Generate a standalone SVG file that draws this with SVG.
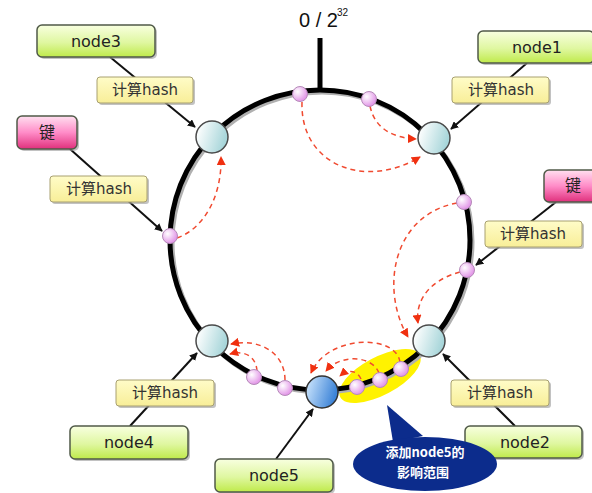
<svg xmlns="http://www.w3.org/2000/svg" width="592" height="493" viewBox="0 0 592 493">
<defs>
<linearGradient id="gGreen" x1="0" y1="0" x2="0" y2="1"><stop offset="0" stop-color="#f8ffe0"/><stop offset="0.55" stop-color="#dff7a0"/><stop offset="1" stop-color="#bfea4a"/></linearGradient>
<linearGradient id="gPinkBox" x1="0" y1="0" x2="0" y2="1"><stop offset="0" stop-color="#ffe0f0"/><stop offset="0.5" stop-color="#ff8cc8"/><stop offset="1" stop-color="#e0307c"/></linearGradient>
<linearGradient id="gYellow" x1="0" y1="0" x2="0" y2="1"><stop offset="0" stop-color="#fffcc8"/><stop offset="1" stop-color="#f8ee98"/></linearGradient>
<linearGradient id="gNode" x1="0" y1="0" x2="1" y2="0.3"><stop offset="0.1" stop-color="#ffffff"/><stop offset="1" stop-color="#a8d6da"/></linearGradient>
<linearGradient id="gBlue" x1="0" y1="0" x2="1" y2="0.3"><stop offset="0" stop-color="#d6ecff"/><stop offset="1" stop-color="#3d84d8"/></linearGradient>
<radialGradient id="gPink" cx="0.35" cy="0.35" r="0.7"><stop offset="0" stop-color="#ffffff"/><stop offset="1" stop-color="#e08ee6"/></radialGradient>
<marker id="aBlack" viewBox="0 0 10 10" refX="9" refY="5" markerWidth="8" markerHeight="8" markerUnits="userSpaceOnUse" orient="auto"><path d="M0,0 L10,5 L0,10 z" fill="#111"/></marker>
<marker id="aRed" viewBox="0 0 10 10" refX="9" refY="5" markerWidth="9" markerHeight="9" markerUnits="userSpaceOnUse" orient="auto"><path d="M0,0 L10,5 L0,10 z" fill="#f03010"/></marker>
</defs>
<style>
.box{stroke:#505a48;stroke-width:1.5}
.shadow{fill:#9a9a9a;opacity:0.6}
.ntext{font-family:"DejaVu Sans","Noto Sans CJK SC",sans-serif;font-size:16px;fill:#222;text-anchor:middle}
.htext{font-family:"DejaVu Sans","Noto Sans CJK SC",sans-serif;font-size:15px;fill:#333;text-anchor:middle}
.hbox{fill:url(#gYellow);stroke:#a8a070;stroke-width:1}
.dash{fill:none;stroke:#f04a30;stroke-width:1.5;stroke-dasharray:5 4;marker-end:url(#aRed)}
.solid{fill:none;stroke:#111;stroke-width:2;marker-end:url(#aBlack)}
.node{fill:url(#gNode);stroke:#4a4a4a;stroke-width:1.5}
.pink{fill:url(#gPink);stroke:#b58ab8;stroke-width:1}
.ctext{font-family:"Noto Sans CJK SC",sans-serif;font-weight:bold;font-size:13px;fill:#ffffff;text-anchor:middle}
</style>
<rect width="592" height="493" fill="#ffffff"/>

<!-- highlight -->
<ellipse cx="380" cy="376" rx="45" ry="19" transform="rotate(-28 380 376)" fill="#fff200"/>

<!-- ring -->
<g id="ring">
<circle cx="322" cy="242" r="150" fill="none" stroke="#b0b0b0" stroke-width="5"/>
<circle cx="320" cy="240" r="150" fill="none" stroke="#000" stroke-width="5"/>
<line x1="320" y1="38" x2="320" y2="91" stroke="#000" stroke-width="5"/>
<text x="299" y="27" font-family="Liberation Sans, sans-serif" font-size="20" fill="#111">0 / 2</text>
<text x="337" y="16" font-family="Liberation Sans, sans-serif" font-size="10" fill="#111">32</text>
</g>

<g id="connectors">
<path class="dash" d="M302,102 C300,165 365,190 420,157"/>
<path class="dash" d="M370,106 C375,130 395,138 416,139"/>
<path class="dash" d="M177,238 C205,228 222,195 221,157"/>
<path class="dash" d="M457,203 C392,215 380,290 408,337"/>
<path class="dash" d="M460,272 C430,280 415,300 418,323"/>
<path class="dash" d="M285,380 C285,352 258,338 231,344"/>
<path class="dash" d="M257,371 C256,356 244,350 230,354"/>
<path class="dash" d="M400,362 C396,334 328,334 311,373"/>
<path class="dash" d="M379,373 C372,355 340,354 326,371"/>
<path class="dash" d="M361,379 C357,370 348,369 340,376"/>
<line class="solid" x1="110" y1="57" x2="195" y2="127"/>
<line class="solid" x1="70" y1="149" x2="162" y2="231"/>
<line class="solid" x1="527" y1="63" x2="451" y2="129"/>
<line class="solid" x1="556" y1="202" x2="476" y2="265"/>
<line class="solid" x1="130" y1="426" x2="197" y2="353"/>
<line class="solid" x1="276" y1="459" x2="313" y2="409"/>
<line class="solid" x1="515" y1="426" x2="443" y2="354"/>
</g>

<!-- ring points -->
<g id="points">
<circle class="pink" cx="300" cy="94" r="7.5"/>
<circle class="pink" cx="369" cy="99" r="7.5"/>
<circle class="pink" cx="464" cy="202" r="7.5"/>
<circle class="pink" cx="467" cy="270" r="7.5"/>
<circle class="pink" cx="170" cy="236" r="7.5"/>
<circle class="pink" cx="254" cy="377" r="7.5"/>
<circle class="pink" cx="285" cy="388" r="7.5"/>
<circle class="pink" cx="357" cy="387" r="7.5"/>
<circle class="pink" cx="380" cy="380" r="7.5"/>
<circle class="pink" cx="401" cy="369" r="7.5"/>
</g>

<g id="n3c"><circle class="node" cx="212" cy="137" r="16"/></g>
<g id="n1c"><circle class="node" cx="434" cy="138" r="16"/></g>
<g id="n4c"><circle class="node" cx="212" cy="341" r="16"/></g>
<g id="n2c"><circle class="node" cx="429" cy="341" r="16"/></g>
<g id="n5c"><circle cx="322" cy="392" r="16" fill="url(#gBlue)" stroke="#333" stroke-width="1.5"/></g>

<!-- labels -->
<g id="node3">
<rect class="shadow" x="39" y="27" width="118" height="32" rx="5"/>
<rect class="box" x="37" y="25" width="118" height="32" rx="5" fill="url(#gGreen)"/>
<text class="ntext" x="96" y="47">node3</text>
</g>
<g id="hash3">
<rect class="shadow" x="99" y="79" width="96" height="26" rx="3"/>
<rect class="hbox" x="97" y="77" width="96" height="26" rx="3"/>
<text class="htext" x="145" y="95">计算hash</text>
</g>
<g id="keyL">
<rect class="shadow" x="19" y="118" width="60" height="33" rx="5"/>
<rect class="box" x="17" y="116" width="60" height="33" rx="5" fill="url(#gPinkBox)" stroke="#4a2030"/>
<text class="ntext" x="47" y="138" font-size="15">键</text>
</g>
<g id="hashL">
<rect class="shadow" x="52" y="178" width="97" height="26" rx="3"/>
<rect class="hbox" x="50" y="176" width="97" height="26" rx="3"/>
<text class="htext" x="99" y="194">计算hash</text>
</g>
<g id="node1">
<rect class="shadow" x="480" y="33" width="116" height="32" rx="5"/>
<rect class="box" x="478" y="31" width="116" height="32" rx="5" fill="url(#gGreen)"/>
<text class="ntext" x="537" y="53">node1</text>
</g>
<g id="hash1">
<rect class="shadow" x="454" y="79" width="97" height="26" rx="3"/>
<rect class="hbox" x="452" y="77" width="97" height="26" rx="3"/>
<text class="htext" x="501" y="95">计算hash</text>
</g>
<g id="keyR">
<rect class="shadow" x="546" y="172" width="50" height="32" rx="5"/>
<rect class="box" x="544" y="170" width="52" height="32" rx="5" fill="url(#gPinkBox)" stroke="#4a2030"/>
<text class="ntext" x="573" y="191" font-size="15">键</text>
</g>
<g id="hashR">
<rect class="shadow" x="487" y="223" width="97" height="26" rx="3"/>
<rect class="hbox" x="485" y="221" width="97" height="26" rx="3"/>
<text class="htext" x="533" y="239">计算hash</text>
</g>
<g id="hash4">
<rect class="shadow" x="118" y="382" width="98" height="26" rx="3"/>
<rect class="hbox" x="116" y="380" width="98" height="26" rx="3"/>
<text class="htext" x="165" y="398">计算hash</text>
</g>
<g id="node4">
<rect class="shadow" x="72" y="428" width="118" height="33" rx="5"/>
<rect class="box" x="70" y="426" width="118" height="33" rx="5" fill="url(#gGreen)"/>
<text class="ntext" x="129" y="448">node4</text>
</g>
<g id="node5">
<rect class="shadow" x="217" y="461" width="118" height="33" rx="5"/>
<rect class="box" x="215" y="459" width="118" height="33" rx="5" fill="url(#gGreen)"/>
<text class="ntext" x="274" y="481">node5</text>
</g>
<g id="hash2">
<rect class="shadow" x="453" y="382" width="98" height="26" rx="3"/>
<rect class="hbox" x="451" y="380" width="98" height="26" rx="3"/>
<text class="htext" x="500" y="398">计算hash</text>
</g>
<g id="node2">
<rect class="shadow" x="467" y="428" width="117" height="32" rx="5"/>
<rect class="box" x="465" y="426" width="117" height="32" rx="5" fill="url(#gGreen)"/>
<text class="ntext" x="525" y="448">node2</text>
</g>

<g id="callout">
<path d="M387,405 L423,436 L393,442 Z" fill="#0c2c8c"/>
<ellipse cx="425" cy="464" rx="72" ry="27" fill="#0c2c8c"/>
<text class="ctext" x="425" y="457">添加node5的</text>
<text class="ctext" x="423" y="477">影响范围</text>
</g>
</svg>
